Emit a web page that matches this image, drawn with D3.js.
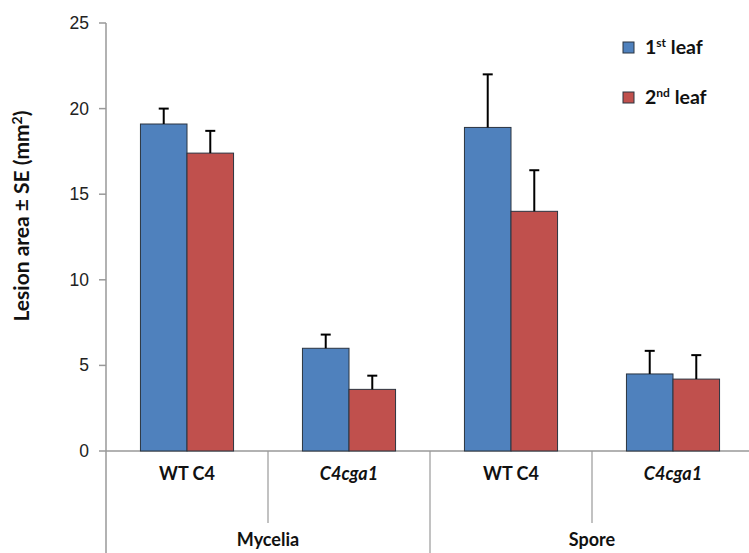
<!DOCTYPE html>
<html lang="en">
<head>
    <meta charset="UTF-8">
    <title>Lesion area</title>
    <script src="https://d3js.org/d3.v7.min.js"></script>
    <style>
        body { margin: 0; background: #fff; }
        svg { display: block; }
        .tick-lbl { font-family: Arial, "Liberation Sans", sans-serif; font-size: 17.5px; fill: #222; }
        .cat-lbl { font-family: Lato, "Open Sans", sans-serif; font-size: 18px; font-weight: bold; fill: #111; }
        .legend-lbl { font-family: Lato, "Open Sans", sans-serif; font-size: 19.5px; font-weight: bold; fill: #111; }
    </style>
</head>
<body>
    <svg id="chart" width="749" height="553"></svg>
    <script>
        // data
        const groups = ["Mycelia", "Spore"];
        const strains = ["WT C4", "C4cga1"];
        const categories = ["Mycelia|WT C4", "Mycelia|C4cga1", "Spore|WT C4", "Spore|C4cga1"];
        const series = ["1st leaf", "2nd leaf"];
        const leaf1 = [19.1, 6.0, 18.9, 4.5];
        const leaf1Err = [0.9, 0.8, 3.1, 1.35];
        const leaf2 = [17.4, 3.6, 14.0, 4.2];
        const leaf2Err = [1.3, 0.8, 2.4, 1.4];
        const yTicks = [0, 5, 10, 15, 20, 25];
        const colors = ["#4F81BD", "#C0504D"];

        const svg = d3.select("#chart");
        const plotL = 106, plotR = 754, plotT = 23, plotB = 451;

        const x = d3.scaleBand().domain(categories).range([plotL, plotR]);
        const xs = d3.scaleBand().domain(series).range([0, x.bandwidth()]).paddingOuter(0.74).paddingInner(0);
        const y = d3.scaleLinear().domain([0, 25]).range([plotB, plotT]);

        // y axis
        svg.append("line").attr("x1", plotL).attr("x2", plotL).attr("y1", plotT).attr("y2", 553)
            .attr("stroke", "#999").attr("stroke-width", 1.5);
        yTicks.forEach(t => {
            svg.append("line").attr("x1", plotL - 7).attr("x2", plotL).attr("y1", y(t)).attr("y2", y(t))
                .attr("stroke", "#999").attr("stroke-width", 1.5);
            svg.append("text").attr("class", "tick-lbl").attr("x", plotL - 17).attr("y", y(t) + 6)
                .attr("text-anchor", "end").text(t);
        });

        // x axis
        svg.append("line").attr("x1", plotL).attr("x2", 749).attr("y1", plotB).attr("y2", plotB)
            .attr("stroke", "#999").attr("stroke-width", 1.5);
        categories.forEach((c, i) => {
            const xe = x(c) + x.bandwidth();
            const major = i % 2 === 1;
            svg.append("line").attr("x1", xe).attr("x2", xe).attr("y1", plotB).attr("y2", major ? 553 : 523)
                .attr("stroke", "#999").attr("stroke-width", 1.2);
            const s = c.split("|")[1];
            svg.append("text").attr("class", "cat-lbl")
                .attr("x", x(c) + x.bandwidth() / 2).attr("y", 480)
                .attr("text-anchor", "middle")
                .style("font-style", s === "C4cga1" ? "italic" : "normal")
                .text(s);
        });
        groups.forEach((g, i) => {
            const c0 = x(g + "|" + strains[0]);
            svg.append("text").attr("class", "cat-lbl")
                .attr("x", c0 + x.bandwidth()).attr("y", 546)
                .attr("text-anchor", "middle").text(g);
        });

        // bars
        const vals = [leaf1, leaf2];
        const errs = [leaf1Err, leaf2Err];
        series.forEach((s, si) => {
            categories.forEach((c, ci) => {
                const v = vals[si][ci];
                const bx = x(c) + xs(s);
                svg.append("rect")
                    .attr("x", bx).attr("y", y(v))
                    .attr("width", xs.bandwidth()).attr("height", y(0) - y(v))
                    .attr("fill", colors[si]).attr("stroke", "#2b3440").attr("stroke-width", 1);
                const cx = bx + xs.bandwidth() / 2;
                const e = v + errs[si][ci];
                svg.append("line").attr("x1", cx).attr("x2", cx).attr("y1", y(v)).attr("y2", y(e))
                    .attr("stroke", "#000").attr("stroke-width", 2);
                svg.append("line").attr("x1", cx - 5).attr("x2", cx + 5).attr("y1", y(e)).attr("y2", y(e))
                    .attr("stroke", "#000").attr("stroke-width", 2);
            });
        });

        // legend
        const sup = ["st", "nd"];
        series.forEach((s, i) => {
            const ly = 48 + i * 50;
            svg.append("rect").attr("x", 623).attr("y", ly - 6).attr("width", 11).attr("height", 11)
                .attr("fill", colors[i]).attr("stroke", "#2b3440").attr("stroke-width", 1);
            const t = svg.append("text").attr("class", "legend-lbl").attr("x", 645).attr("y", ly + 6);
            t.append("tspan").text(s.charAt(0));
            t.append("tspan").attr("dy", -7).style("font-size", "12px").text(sup[i]);
            t.append("tspan").attr("dy", 7).text(" leaf");
        });

        // y title
        const yt = svg.append("text")
            .attr("transform", "translate(29,216) rotate(-90)")
            .attr("text-anchor", "middle")
            .style("font-family", "Lato, 'Open Sans', sans-serif")
            .style("font-size", "21px").style("font-weight", "bold").style("fill", "#111");
        yt.append("tspan").text("Lesion area ± SE (mm");
        yt.append("tspan").attr("dy", -7).style("font-size", "14px").text("2");
        yt.append("tspan").attr("dy", 7).text(")");
    </script>
</body>
</html>
